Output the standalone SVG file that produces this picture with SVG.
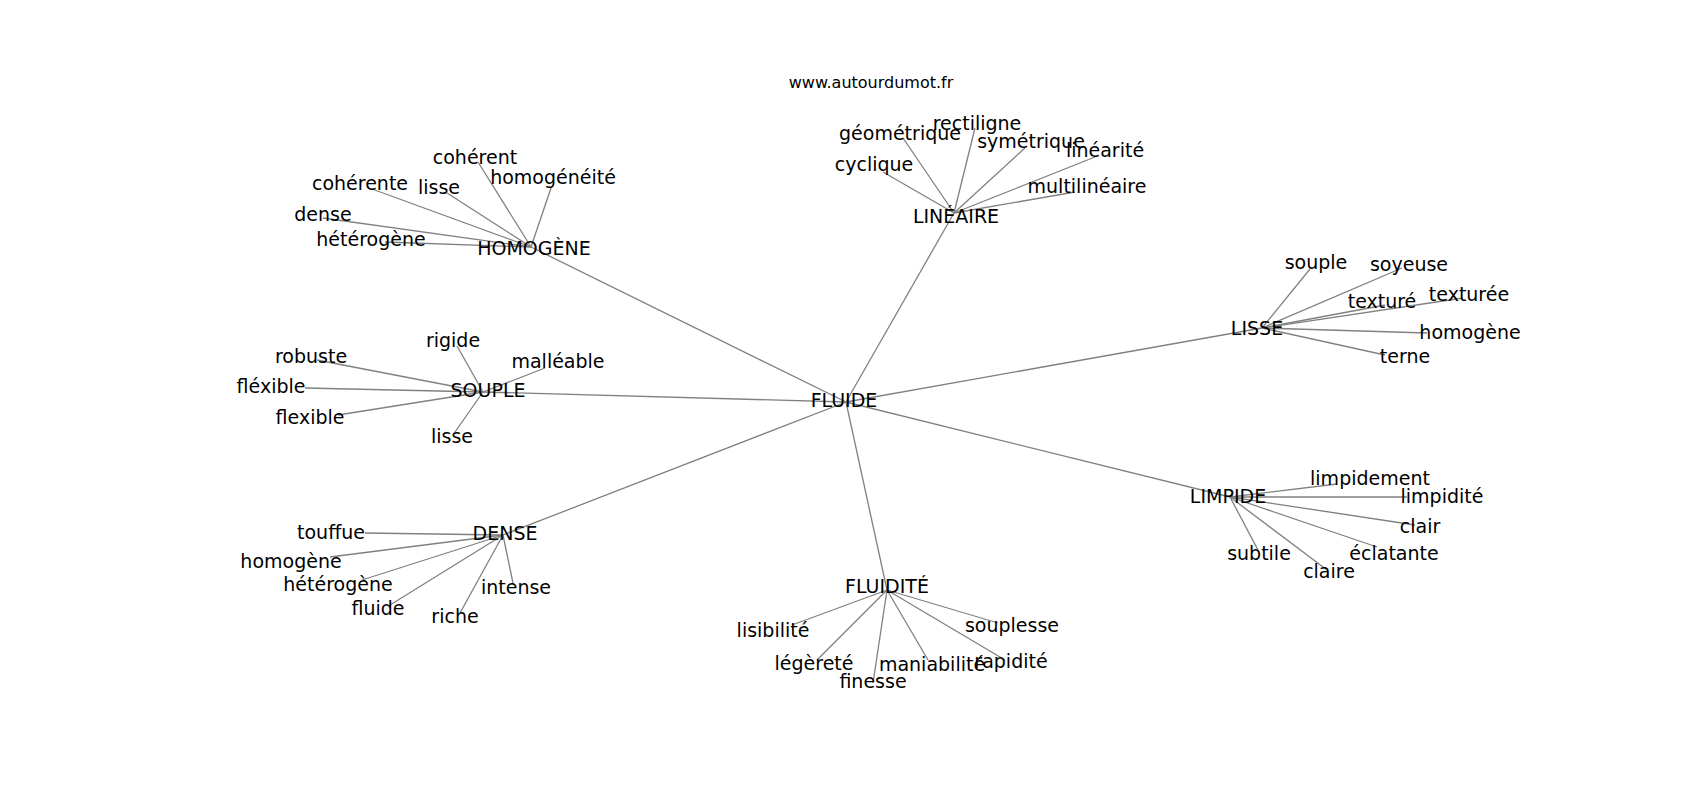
<svg xmlns="http://www.w3.org/2000/svg" width="1700" height="800" viewBox="0 0 1700 800">
<style>
.e{stroke:#808080;stroke-width:1.3;fill:none}
.t{font-family:"DejaVu Sans","Liberation Sans",sans-serif;font-size:19px;text-anchor:middle;fill:#000}
.h{font-family:"DejaVu Sans","Liberation Sans",sans-serif;font-size:16px;text-anchor:middle;fill:#000}
</style>
<rect width="1700" height="800" fill="#fff"/>
<g id="connectors">
<line class="e" x1="846" y1="402" x2="531" y2="247"/>
<line class="e" x1="846" y1="402" x2="954" y2="213"/>
<line class="e" x1="846" y1="402" x2="1262" y2="328"/>
<line class="e" x1="846" y1="402" x2="1230" y2="497"/>
<line class="e" x1="846" y1="402" x2="887" y2="590"/>
<line class="e" x1="846" y1="402" x2="503" y2="535"/>
<line class="e" x1="846" y1="402" x2="483" y2="392"/>
<line class="e" x1="531" y1="247" x2="478" y2="162"/>
<line class="e" x1="531" y1="247" x2="551" y2="188"/>
<line class="e" x1="531" y1="247" x2="372" y2="189"/>
<line class="e" x1="531" y1="247" x2="447" y2="193"/>
<line class="e" x1="531" y1="247" x2="323" y2="218"/>
<line class="e" x1="531" y1="247" x2="385" y2="242"/>
<line class="e" x1="954" y1="213" x2="903" y2="138"/>
<line class="e" x1="954" y1="213" x2="975" y2="128"/>
<line class="e" x1="954" y1="213" x2="1025" y2="148"/>
<line class="e" x1="954" y1="213" x2="1095" y2="157"/>
<line class="e" x1="954" y1="213" x2="883" y2="172"/>
<line class="e" x1="954" y1="213" x2="1075" y2="192"/>
<line class="e" x1="1262" y1="328" x2="1310" y2="269"/>
<line class="e" x1="1262" y1="328" x2="1402" y2="268"/>
<line class="e" x1="1262" y1="328" x2="1385" y2="305"/>
<line class="e" x1="1262" y1="328" x2="1463" y2="298"/>
<line class="e" x1="1262" y1="328" x2="1427" y2="333"/>
<line class="e" x1="1262" y1="328" x2="1385" y2="355"/>
<line class="e" x1="1230" y1="497" x2="1337" y2="484"/>
<line class="e" x1="1230" y1="497" x2="1407" y2="497"/>
<line class="e" x1="1230" y1="497" x2="1415" y2="525"/>
<line class="e" x1="1230" y1="497" x2="1377" y2="547"/>
<line class="e" x1="1230" y1="497" x2="1327" y2="570"/>
<line class="e" x1="1230" y1="497" x2="1258" y2="550"/>
<line class="e" x1="887" y1="590" x2="792" y2="625"/>
<line class="e" x1="887" y1="590" x2="998" y2="623"/>
<line class="e" x1="887" y1="590" x2="817" y2="660"/>
<line class="e" x1="887" y1="590" x2="928" y2="660"/>
<line class="e" x1="887" y1="590" x2="1005" y2="660"/>
<line class="e" x1="887" y1="590" x2="873" y2="683"/>
<line class="e" x1="503" y1="535" x2="365" y2="533"/>
<line class="e" x1="503" y1="535" x2="330" y2="557"/>
<line class="e" x1="503" y1="535" x2="362" y2="580"/>
<line class="e" x1="503" y1="535" x2="390" y2="605"/>
<line class="e" x1="503" y1="535" x2="460" y2="613"/>
<line class="e" x1="503" y1="535" x2="513" y2="583"/>
<line class="e" x1="483" y1="392" x2="457" y2="346"/>
<line class="e" x1="483" y1="392" x2="545" y2="368"/>
<line class="e" x1="483" y1="392" x2="317" y2="360"/>
<line class="e" x1="483" y1="392" x2="305" y2="388"/>
<line class="e" x1="483" y1="392" x2="338" y2="415"/>
<line class="e" x1="483" y1="392" x2="455" y2="432"/>
</g>
<text class="h" x="871" y="88">www.autourdumot.fr</text>
<g id="n-fluide"><text class="t" x="844" y="407">FLUIDE</text></g>
<g id="n-homogene"><text class="t" x="534" y="255">HOMOGÈNE</text></g>
<g id="n-coherent"><text class="t" x="475" y="164">cohérent</text></g>
<g id="n-homogeneite"><text class="t" x="553" y="184">homogénéité</text></g>
<g id="n-coherente"><text class="t" x="360" y="190">cohérente</text></g>
<g id="n-lisse-1"><text class="t" x="439" y="194">lisse</text></g>
<g id="n-dense-1"><text class="t" x="323" y="221">dense</text></g>
<g id="n-heterogene-1"><text class="t" x="371" y="246">hétérogène</text></g>
<g id="n-lineaire"><text class="t" x="956" y="223">LINÉAIRE</text></g>
<g id="n-rectiligne"><text class="t" x="977" y="130">rectiligne</text></g>
<g id="n-geometrique"><text class="t" x="900" y="140">géométrique</text></g>
<g id="n-symetrique"><text class="t" x="1031" y="148">symétrique</text></g>
<g id="n-linearite"><text class="t" x="1105" y="157">linéarité</text></g>
<g id="n-cyclique"><text class="t" x="874" y="171">cyclique</text></g>
<g id="n-multilineaire"><text class="t" x="1087" y="193">multilinéaire</text></g>
<g id="n-lisse"><text class="t" x="1257" y="335">LISSE</text></g>
<g id="n-souple-1"><text class="t" x="1316" y="269">souple</text></g>
<g id="n-soyeuse"><text class="t" x="1409" y="271">soyeuse</text></g>
<g id="n-texture"><text class="t" x="1382" y="308">texturé</text></g>
<g id="n-texturee"><text class="t" x="1469" y="301">texturée</text></g>
<g id="n-homogene-2"><text class="t" x="1470" y="339">homogène</text></g>
<g id="n-terne"><text class="t" x="1405" y="363">terne</text></g>
<g id="n-limpide"><text class="t" x="1228" y="503">LIMPIDE</text></g>
<g id="n-limpidement"><text class="t" x="1370" y="485">limpidement</text></g>
<g id="n-limpidite"><text class="t" x="1442" y="503">limpidité</text></g>
<g id="n-clair"><text class="t" x="1420" y="533">clair</text></g>
<g id="n-eclatante"><text class="t" x="1394" y="560">éclatante</text></g>
<g id="n-claire"><text class="t" x="1329" y="578">claire</text></g>
<g id="n-subtile"><text class="t" x="1259" y="560">subtile</text></g>
<g id="n-fluidite"><text class="t" x="887" y="593">FLUIDITÉ</text></g>
<g id="n-lisibilite"><text class="t" x="773" y="637">lisibilité</text></g>
<g id="n-souplesse"><text class="t" x="1012" y="632">souplesse</text></g>
<g id="n-legerete"><text class="t" x="814" y="670">légèreté</text></g>
<g id="n-maniabilite"><text class="t" x="932" y="671">maniabilité</text></g>
<g id="n-rapidite"><text class="t" x="1011" y="668">rapidité</text></g>
<g id="n-finesse"><text class="t" x="873" y="688">finesse</text></g>
<g id="n-dense"><text class="t" x="505" y="540">DENSE</text></g>
<g id="n-touffue"><text class="t" x="331" y="539">touffue</text></g>
<g id="n-homogene-3"><text class="t" x="291" y="568">homogène</text></g>
<g id="n-heterogene-2"><text class="t" x="338" y="591">hétérogène</text></g>
<g id="n-fluide-2"><text class="t" x="378" y="615">fluide</text></g>
<g id="n-riche"><text class="t" x="455" y="623">riche</text></g>
<g id="n-intense"><text class="t" x="516" y="594">intense</text></g>
<g id="n-souple"><text class="t" x="488" y="397">SOUPLE</text></g>
<g id="n-rigide"><text class="t" x="453" y="347">rigide</text></g>
<g id="n-malleable"><text class="t" x="558" y="368">malléable</text></g>
<g id="n-robuste"><text class="t" x="311" y="363">robuste</text></g>
<g id="n-flexible-1"><text class="t" x="271" y="393">fléxible</text></g>
<g id="n-flexible-2"><text class="t" x="310" y="424">flexible</text></g>
<g id="n-lisse-2"><text class="t" x="452" y="443">lisse</text></g>
</svg>
